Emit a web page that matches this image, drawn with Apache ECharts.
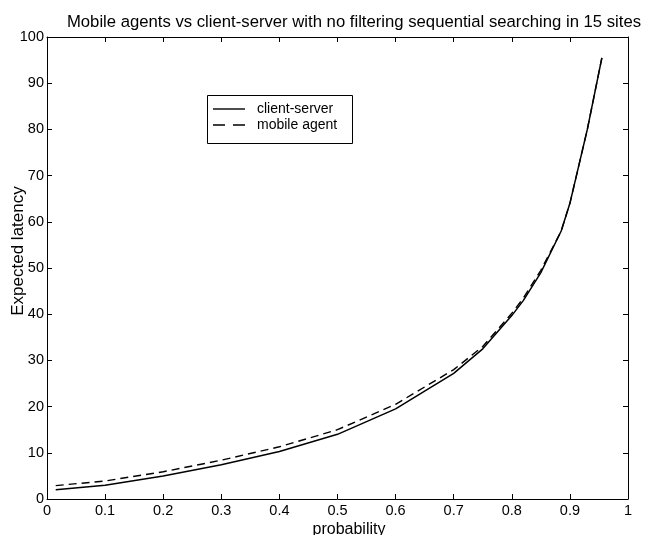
<!DOCTYPE html>
<html>
<head>
<meta charset="utf-8">
<script src="https://cdn.jsdelivr.net/npm/echarts@6/dist/echarts.min.js"></script>
<style>
html,body{margin:0;padding:0;background:#fff;}
#chart{width:646px;height:535px;}
</style>
</head>
<body>
<div id="chart"></div>
<script>
const titleText = "Mobile agents vs client-server with no filtering sequential searching in 15 sites";
const xAxisTitle = "probability";
const yAxisTitle = "Expected latency";
const probability = [0.015, 0.1, 0.2, 0.3, 0.4, 0.5, 0.6, 0.7, 0.75, 0.8, 0.82, 0.85, 0.885, 0.9, 0.93, 0.955];
const clientServer = [2.0, 3.0, 5.0, 7.4, 10.3, 14.0, 19.5, 27.2, 32.5, 39.7, 43.0, 49.0, 58.0, 64.0, 80.0, 95.5];
const mobileAgent  = [2.9, 3.9, 5.9, 8.4, 11.3, 15.0, 20.5, 28.0, 33.0, 40.2, 43.5, 49.5, 58.0, 64.0, 80.0, 95.5];
const seriesNames = ["client-server", "mobile agent"];

const font = "Liberation Sans, Arial, sans-serif";
const chart = echarts.init(document.getElementById('chart'), null, {renderer: 'canvas'});
const pairs = (xs, ys) => xs.map((x, i) => [x, ys[i]]);
const boxAxis = {
  axisLine: {show: true, onZero: false, lineStyle: {color: '#000', width: 1}},
  axisTick: {show: true, inside: true, length: 5, lineStyle: {color: '#000'}},
  splitLine: {show: false}
};
const txt = {fontFamily: font, color: '#000'};
chart.setOption({
  animation: false,
  backgroundColor: '#fff',
  title: {
    text: titleText, left: 349, top: 9, textAlign: 'center',
    textStyle: Object.assign({fontSize: 16.7, fontWeight: 'normal'}, txt)
  },
  grid: {left: 47, right: 18, top: 37, bottom: 36},
  xAxis: [
    Object.assign({}, boxAxis, {
      type: 'value', min: 0, max: 1, interval: 0.1, position: 'bottom',
      axisLabel: Object.assign({fontSize: 14.5, margin: 4,
        formatter: v => (v === 0 || v === 1) ? String(v) : v.toFixed(1)}, txt)
    }),
    Object.assign({}, boxAxis, {
      type: 'value', min: 0, max: 1, interval: 0.1, position: 'top',
      axisLabel: {show: false}
    })
  ],
  yAxis: [
    Object.assign({}, boxAxis, {
      type: 'value', min: 0, max: 100, interval: 10, position: 'left',
      axisLabel: Object.assign({fontSize: 14.5, margin: 3}, txt)
    }),
    Object.assign({}, boxAxis, {
      type: 'value', min: 0, max: 100, interval: 10, position: 'right',
      axisLabel: {show: false}
    })
  ],
  graphic: [
    {type: 'text', x: 18, y: 251, rotation: Math.PI / 2,
     style: {text: yAxisTitle, fontSize: 17, fill: '#000',
       fontFamily: font, align: 'center', verticalAlign: 'middle'}},
    {type: 'text', x: 349, y: 530,
     style: {text: xAxisTitle, fontSize: 16, fill: '#000',
       fontFamily: font, align: 'center', verticalAlign: 'middle'}},
    {type: 'rect', shape: {x: 207.5, y: 95.5, width: 145, height: 48},
     style: {fill: '#fff', stroke: '#000', lineWidth: 1}, z: 10},
    {type: 'line', shape: {x1: 213, y1: 109, x2: 245, y2: 109},
     style: {stroke: '#000', lineWidth: 1.4}, z: 11},
    {type: 'line', shape: {x1: 213, y1: 125, x2: 245, y2: 125},
     style: {stroke: '#000', lineWidth: 1.3, lineDash: [12, 8]}, z: 11},
    {type: 'text', x: 257, y: 109, z: 11,
     style: {text: seriesNames[0], fontSize: 14, fill: '#000', fontFamily: font, verticalAlign: 'middle'}},
    {type: 'text', x: 257, y: 125, z: 11,
     style: {text: seriesNames[1], fontSize: 14, fill: '#000', fontFamily: font, verticalAlign: 'middle'}}
  ],
  series: [
    {
      name: seriesNames[0], type: 'line', data: pairs(probability, clientServer),
      showSymbol: false, symbol: 'none', smooth: false,
      lineStyle: {color: '#000', width: 1.5, type: 'solid'},
      itemStyle: {color: '#000'}
    },
    {
      name: seriesNames[1], type: 'line', data: pairs(probability, mobileAgent),
      showSymbol: false, symbol: 'none', smooth: false,
      lineStyle: {color: '#000', width: 1.4, type: [8, 5]},
      itemStyle: {color: '#000'}
    }
  ]
});
</script>
</body>
</html>
